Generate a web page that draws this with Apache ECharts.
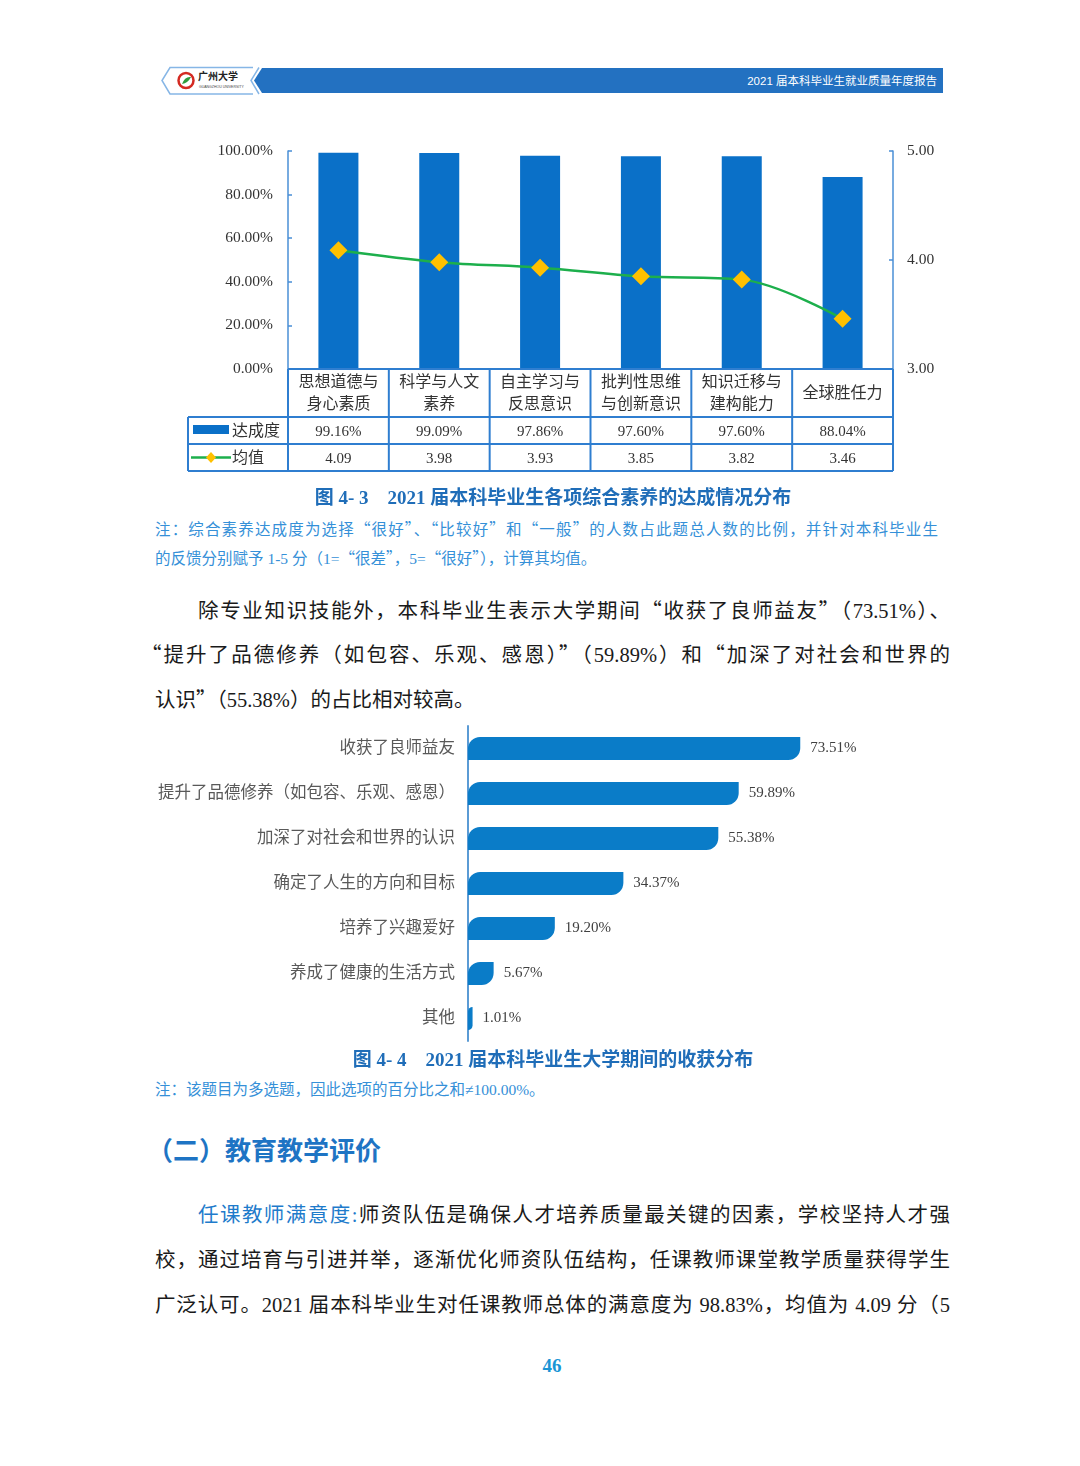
<!DOCTYPE html>
<html><head><meta charset="utf-8">
<script src="https://cdn.jsdelivr.net/npm/echarts@6/dist/echarts.min.js"></script>
<style>
body{margin:0;background:#fff;}
#page{position:relative;width:1080px;height:1466px;background:#fff;overflow:hidden;font-family:"Liberation Serif","Noto Sans CJK SC",serif;color:#1a1a1a;}
.abs{position:absolute;white-space:nowrap;}
.jl{position:absolute;text-align:justify;text-align-last:justify;overflow:visible;}
.cell{position:absolute;display:flex;align-items:center;justify-content:center;text-align:center;color:#333;}
.q{font-family:"Noto Sans CJK SC";font-feature-settings:"fwid";}
</style></head>
<body>
<div id="page">
  <svg class="abs" style="left:0;top:0" width="1080" height="110">
    <polygon points="262,68 943,68 943,93 262,93 254,80.5" fill="#2371C1"/>
    <polyline points="259,67.5 251,80.5 259,94" fill="none" stroke="#86B6E6" stroke-width="1.5"/>
    <polyline points="253,67.5 170,67.5 162,80.5 170,94 253,94" fill="none" stroke="#86B6E6" stroke-width="1.5"/>
    <circle cx="186" cy="80.5" r="7.5" fill="#fff" stroke="#D42A22" stroke-width="2.5"/>
    <path d="M182,84 Q185,76 191,77 Q188,83 182,84 Z" fill="#2E9B3C"/>
    <text x="198" y="80" font-size="10" font-weight="bold" fill="#222" font-family="Noto Sans CJK SC">广州大学</text>
    <text x="199" y="88" font-size="3.5" fill="#444" font-family="Liberation Sans">GUANGZHOU UNIVERSITY</text>
    <text x="937" y="85" font-size="11.5" fill="#fff" text-anchor="end" font-family="Liberation Sans, Noto Sans CJK SC">2021 届本科毕业生就业质量年度报告</text>
  </svg>

  <div id="c1" class="abs" style="left:150px;top:130px;width:800px;height:260px;"></div>
  <div id="tbl"></div>

  <div class="abs" style="left:0;width:1106px;text-align:center;top:486px;line-height:24px;font-size:19px;font-weight:bold;color:#1F6DB8;white-space:pre;">图 4- 3    2021 届本科毕业生各项综合素养的达成情况分布</div>
  <div class="jl qt" style="left:155px;width:783px;top:517px;line-height:22px;font-size:15.5px;color:#3590D8;">注：综合素养达成度为选择“很好”、“比较好”和“一般”的人数占此题总人数的比例，并针对本科毕业生</div>
  <div class="abs qt" style="left:155px;top:546px;line-height:22px;font-size:15.5px;color:#3590D8;">的反馈分别赋予 1-5 分（1=“很差”，5=“很好”），计算其均值。</div>

  <div class="jl qt" style="left:198px;width:752px;top:596px;line-height:26px;font-size:20.5px;">除专业知识技能外，本科毕业生表示大学期间“收获了良师益友”（73.51%）、</div>
  <div class="jl qt" style="left:141px;width:809px;top:640px;line-height:26px;font-size:20.5px;">“提升了品德修养（如包容、乐观、感恩）”（59.89%）和“加深了对社会和世界的</div>
  <div class="abs qt" style="left:155px;top:685px;line-height:26px;font-size:20.5px;">认识”（55.38%）的占比相对较高。</div>

  <div id="c2" class="abs" style="left:150px;top:720px;width:800px;height:330px;"></div>

  <div class="abs" style="left:0;width:1106px;text-align:center;top:1048px;line-height:24px;font-size:19px;font-weight:bold;color:#1F6DB8;white-space:pre;">图 4- 4    2021 届本科毕业生大学期间的收获分布</div>
  <div class="abs" style="left:155px;top:1079px;line-height:22px;font-size:15.5px;color:#3590D8;">注：该题目为多选题，因此选项的百分比之和≠100.00%。</div>

  <div class="abs" style="left:147px;top:1133px;line-height:32px;font-size:26px;font-weight:bold;color:#1E74C4;font-family:'Noto Sans CJK SC';">（二）教育教学评价</div>

  <div class="jl" style="left:198px;width:752px;top:1202px;line-height:26px;font-size:20.5px;"><span style="color:#1E7BCB;">任课教师满意度:</span>师资队伍是确保人才培养质量最关键的因素，学校坚持人才强</div>
  <div class="jl" style="left:155px;width:795px;top:1247px;line-height:26px;font-size:20.5px;">校，通过培育与引进并举，逐渐优化师资队伍结构，任课教师课堂教学质量获得学生</div>
  <div class="jl" style="left:155px;width:795px;top:1292px;line-height:26px;font-size:20.5px;">广泛认可。2021 届本科毕业生对任课教师总体的满意度为 98.83%，均值为 4.09 分（5</div>

  <div class="abs" style="left:0;width:1104px;text-align:center;top:1354px;line-height:24px;font-size:19px;font-weight:bold;color:#1A95D5;">46</div>
</div>

<script>
// ---- Chart 1 data ----
const categories1 = ['思想道德与\n身心素质','科学与人文\n素养','自主学习与\n反思意识','批判性思维\n与创新意识','知识迁移与\n建构能力','全球胜任力'];
const achieveRate = [99.16, 99.09, 97.86, 97.60, 97.60, 88.04];
const meanScore = [4.09, 3.98, 3.93, 3.85, 3.82, 3.46];
const seriesNames1 = ['达成度', '均值'];

// ---- Chart 2 data ----
const categories2 = ['收获了良师益友','提升了品德修养（如包容、乐观、感恩）','加深了对社会和世界的认识','确定了人生的方向和目标','培养了兴趣爱好','养成了健康的生活方式','其他'];
const gainShare = [73.51, 59.89, 55.38, 34.37, 19.20, 5.67, 1.01];

const FONT = '"Liberation Serif","Noto Sans CJK SC",serif';
const AXIS_BLUE = '#4A8FD6';
const TABLE_BLUE = '#2F7ED0';

// full-width CJK quotes
document.querySelectorAll('.qt').forEach(el=>{
  el.innerHTML = el.innerHTML.replace(/([“”])/g, '<span class="q">$1</span>');
});

const c1 = echarts.init(document.getElementById('c1'), null, {renderer:'canvas'});
c1.setOption({
  animation:false,
  grid:{left:138, top:21, width:605, height:218},
  xAxis:{type:'category', data:categories1, axisLine:{show:false}, axisTick:{show:false}, axisLabel:{show:false}},
  yAxis:[
    {type:'value', min:0, max:100, interval:20, splitLine:{show:false},
     axisLine:{show:true, lineStyle:{color:AXIS_BLUE, width:1.5}},
     axisTick:{show:true, inside:true, length:4, lineStyle:{color:AXIS_BLUE, width:1.5}},
     axisLabel:{formatter:v=>v.toFixed(2)+'%', margin:15, fontSize:15.5, color:'#333', fontFamily:FONT}},
    {type:'value', min:3, max:5, interval:1, position:'right', splitLine:{show:false},
     axisLine:{show:true, lineStyle:{color:AXIS_BLUE, width:1.5}},
     axisTick:{show:true, inside:true, length:4, lineStyle:{color:AXIS_BLUE, width:1.5}},
     axisLabel:{formatter:v=>v.toFixed(2), margin:14, fontSize:15.5, color:'#333', fontFamily:FONT}}
  ],
  series:[
    {name:seriesNames1[0], type:'bar', data:achieveRate, barWidth:40, itemStyle:{color:'#0A70C8'}},
    {name:seriesNames1[1], type:'line', yAxisIndex:1, data:meanScore, smooth:0.35, z:5,
     lineStyle:{color:'#1DAF4C', width:2.5}, symbol:'diamond', symbolSize:18,
     itemStyle:{color:'#FFC000', borderWidth:0}}
  ]
});

// ---- data table under chart 1 ----
(function(){
  const tbl = document.getElementById('tbl');
  const gx0 = 288, gx1 = 893, tx0 = 188;
  const ys = [369, 417, 444, 471];
  const cw = (gx1 - gx0) / categories1.length;
  let svg = '<svg class="abs" style="left:0;top:0" width="1080" height="500">';
  const L = (x1,y1,x2,y2)=>svg += `<line x1="${x1}" y1="${y1}" x2="${x2}" y2="${y2}" stroke="${TABLE_BLUE}" stroke-width="2"/>`;
  L(gx0, ys[0], gx1, ys[0]);
  for (let r=1;r<4;r++) L(tx0, ys[r], gx1, ys[r]);
  L(tx0, ys[1], tx0, ys[3]);
  for (let i=0;i<=categories1.length;i++){ const x=gx0+i*cw; L(x, ys[0], x, ys[3]); }
  svg += `<rect x="193" y="425" width="36" height="9" fill="#0A70C8"/>`;
  svg += `<line x1="191" y1="457.5" x2="231" y2="457.5" stroke="#1DAF4C" stroke-width="2.5"/>`;
  svg += `<polygon points="211,452 216,457.5 211,463 206,457.5" fill="#FFC000"/>`;
  svg += '</svg>';
  let html = svg;
  const cell = (x,y,w,h,txt,fs)=>`<div class="cell" style="left:${x}px;top:${y}px;width:${w}px;height:${h}px;font-size:${fs}px;line-height:22px;">${txt}</div>`;
  categories1.forEach((c,i)=>{
    const x = gx0+i*cw;
    html += cell(x, ys[0], cw, ys[1]-ys[0], c.replace('\n','<br>'), 16);
    html += cell(x, ys[1], cw, ys[2]-ys[1], achieveRate[i].toFixed(2)+'%', 15);
    html += cell(x, ys[2], cw, ys[3]-ys[2], meanScore[i].toFixed(2), 15);
  });
  html += `<div class="abs" style="left:232px;top:${ys[1]}px;height:${ys[2]-ys[1]}px;line-height:${ys[2]-ys[1]}px;font-size:16px;color:#333;">${seriesNames1[0]}</div>`;
  html += `<div class="abs" style="left:232px;top:${ys[2]}px;height:${ys[3]-ys[2]}px;line-height:${ys[3]-ys[2]}px;font-size:16px;color:#333;">${seriesNames1[1]}</div>`;
  tbl.innerHTML = html;
})();

const c2 = echarts.init(document.getElementById('c2'), null, {renderer:'canvas'});
c2.setOption({
  animation:false,
  grid:{left:318, top:6, width:452, height:315},
  xAxis:{type:'value', min:0, max:100, show:false},
  yAxis:{type:'category', data:categories2, inverse:true,
    axisLine:{show:true, lineStyle:{color:'#5B9BD5', width:2}},
    axisTick:{show:false},
    axisLabel:{color:'#595959', fontSize:16.5, margin:13, fontFamily:FONT}},
  series:[{type:'bar', data:gainShare, barWidth:23,
    itemStyle:{color:'#0A7CC8', borderRadius:[12,0,12,0]},
    label:{show:true, position:'right', distance:10, formatter:p=>p.value.toFixed(2)+'%',
      color:'#404040', fontSize:15, fontFamily:FONT}}]
});
</script>
</body></html>
